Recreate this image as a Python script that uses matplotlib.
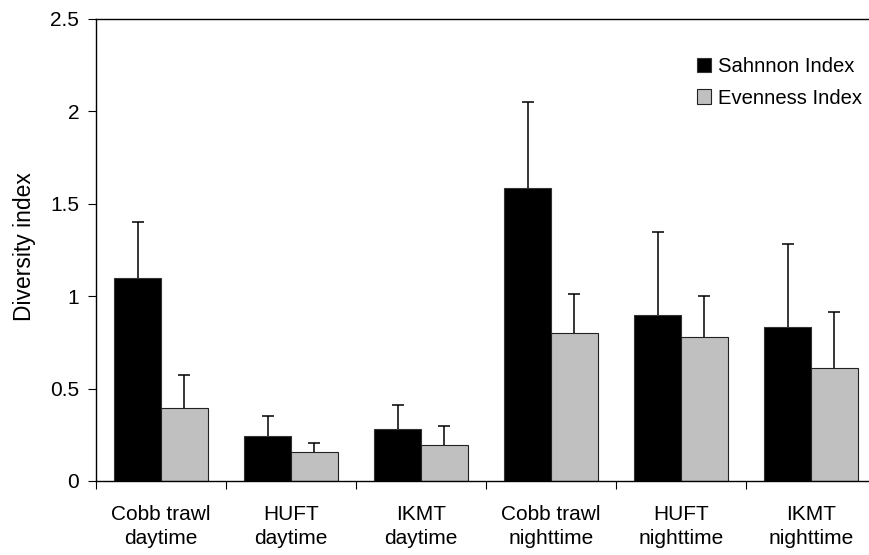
import matplotlib
matplotlib.use("Agg")
import matplotlib.pyplot as plt
import numpy as np

plt.rcParams['font.family'] = ['Liberation Sans', 'DejaVu Sans']

categories = ["Cobb trawl\ndaytime", "HUFT\ndaytime", "IKMT\ndaytime",
              "Cobb trawl\nnighttime", "HUFT\nnighttime", "IKMT\nnighttime"]
shannon = [1.10, 0.245, 0.283, 1.584, 0.898, 0.835]
shannon_err = [0.30, 0.108, 0.127, 0.466, 0.449, 0.447]
evenness = [0.393, 0.155, 0.193, 0.80, 0.779, 0.61]
evenness_err = [0.181, 0.049, 0.107, 0.21, 0.224, 0.306]
yticks = [0, 0.5, 1, 1.5, 2, 2.5]
ytick_labels = ["0", "0.5", "1", "1.5", "2", "2.5"]

FS = 15

fig = plt.figure(figsize=(8.69, 5.55), dpi=100)
ax = fig.add_axes([96/869, 1 - 481/555, 780/869, 462/555])

x = np.arange(len(categories))
w = 0.36
err_kw = dict(ecolor='black', elinewidth=1.1, capsize=4, capthick=1.1)
b1 = ax.bar(x - w/2, shannon, w, color='black', edgecolor='#333333', linewidth=0.8,
            yerr=[np.zeros(len(x)), shannon_err], error_kw=err_kw, label='Sahnnon Index')
b2 = ax.bar(x + w/2, evenness, w, color='#c0c0c0', edgecolor='#222222', linewidth=0.8,
            yerr=[np.zeros(len(x)), evenness_err], error_kw=err_kw, label='Evenness Index')
# hide lower caps (only upper error bars are shown)
for b in (b1, b2):
    caps = b.errorbar.lines[1]
    if len(caps) >= 1:
        caps[0].set_visible(False)

ax.set_xlim(-0.5, len(categories) - 0.5)
ax.set_ylim(0, 2.5)
ax.set_yticks(yticks)
ax.set_yticklabels(ytick_labels, fontsize=FS)
ax.tick_params(axis='y', direction='out', length=6, width=0.8, pad=6)

ax.set_xticks(np.arange(len(categories) + 1) - 0.5)
ax.set_xticklabels([])
ax.tick_params(axis='x', which='major', direction='out', length=6, width=0.8)
ax.set_xticks(x, minor=True)
ax.set_xticklabels(categories, minor=True, fontsize=FS, linespacing=1.35)
ax.tick_params(axis='x', which='minor', length=0, pad=17)

for s in ax.spines.values():
    s.set_linewidth(1.0)

fig.text(25/869, 1 - 247/555, "Diversity index", rotation=90, fontsize=16.5,
         ha='center', va='center')

fig.legend(handles=[b1, b2], labels=['Sahnnon Index', 'Evenness Index'],
           loc='upper left', bbox_to_anchor=(697/869, 1 - 57/555), frameon=False,
           fontsize=14.6, handlelength=0.7, handleheight=0.7, handletextpad=0.35,
           labelspacing=0.62, borderpad=0, borderaxespad=0)

fig.savefig("out.png", dpi=100)
